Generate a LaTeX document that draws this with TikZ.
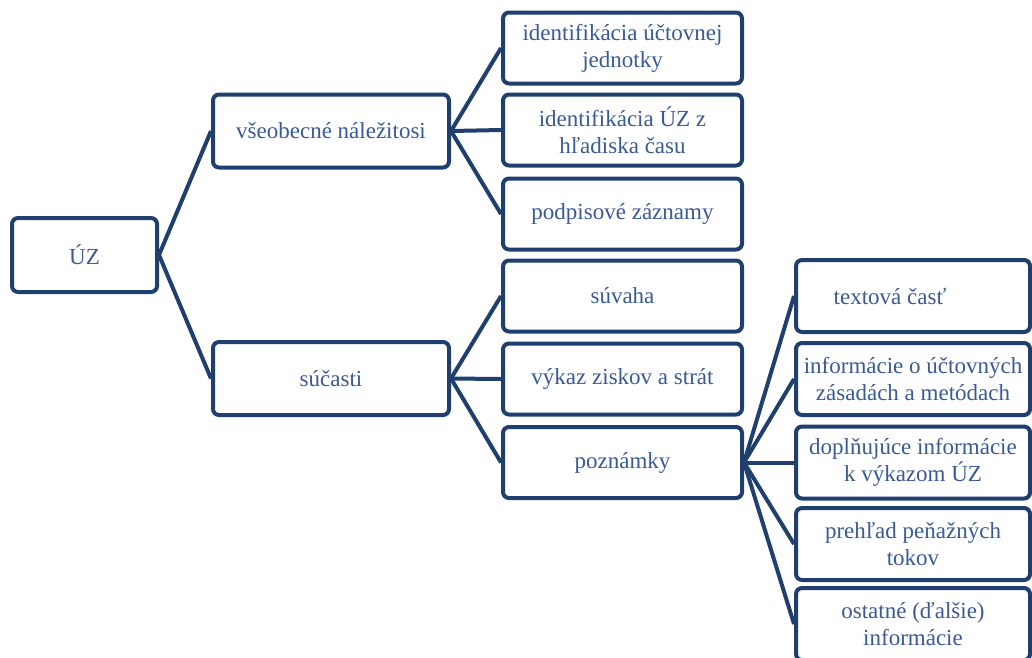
\documentclass[tikz,border=0pt]{standalone}
\usepackage{fontspec}
\setmainfont{Liberation Serif}
\definecolor{linec}{HTML}{1F3F6F}
\definecolor{textc}{HTML}{3A5A96}
\begin{document}
\begin{tikzpicture}[x=1pt,y=-1pt,
  box/.style={draw=linec, line width=4pt, rounded corners=6pt, fill=white,
    text=textc, align=center, inner sep=0pt,
    font=\fontsize{23}{27}\selectfont},
  boxA/.style={box, minimum width=145pt, minimum height=74pt},
  boxB/.style={box, minimum width=236pt, minimum height=73pt},
  boxC/.style={box, minimum width=239pt, minimum height=71pt},
  boxD/.style={box, minimum width=234pt, minimum height=72pt},
  link/.style={draw=linec, line width=4pt}]
\clip (0,0) rectangle (1032,657);
\useasboundingbox (0,0) rectangle (1032,657);

\node[boxA] (uz) at (84.5,255) {ÚZ};
\node[boxB] (vseo) at (331,131) {všeobecné náležitosi};
\node[boxB] (suc) at (331,378.5) {súčasti};

\node[boxC] (a1) at (622.5,48) {identifikácia účtovnej\\jednotky};
\node[boxC] (a2) at (622.5,130) {identifikácia ÚZ z\\hľadiska času};
\node[boxC] (a3) at (622.5,214) {podpisové záznamy};
\node[boxC] (b1) at (622.5,296) {súvaha};
\node[boxC] (b2) at (622.5,379) {výkaz ziskov a strát};
\node[boxC] (b3) at (622.5,462.5) {poznámky};

\node[boxD] (c1) at (913,296) {\hspace*{-46pt}textová časť};
\node[boxD] (c2) at (913,379) {informácie o účtovných\\zásadách a metódach};
\node[boxD] (c3) at (913,462.5) {doplňujúce informácie\\k výkazom ÚZ};
\node[boxD] (c4) at (913,544) {prehľad peňažných\\tokov};
\node[boxD] (c5) at (913,624) {ostatné (ďalšie)\\informácie};

\foreach \p/\c in {uz/vseo, uz/suc, vseo/a1, vseo/a2, vseo/a3,
                   suc/b1, suc/b2, suc/b3,
                   b3/c1, b3/c2, b3/c3, b3/c4, b3/c5}
  \draw[link] (\p.east) -- (\c.west);
\end{tikzpicture}
\end{document}
